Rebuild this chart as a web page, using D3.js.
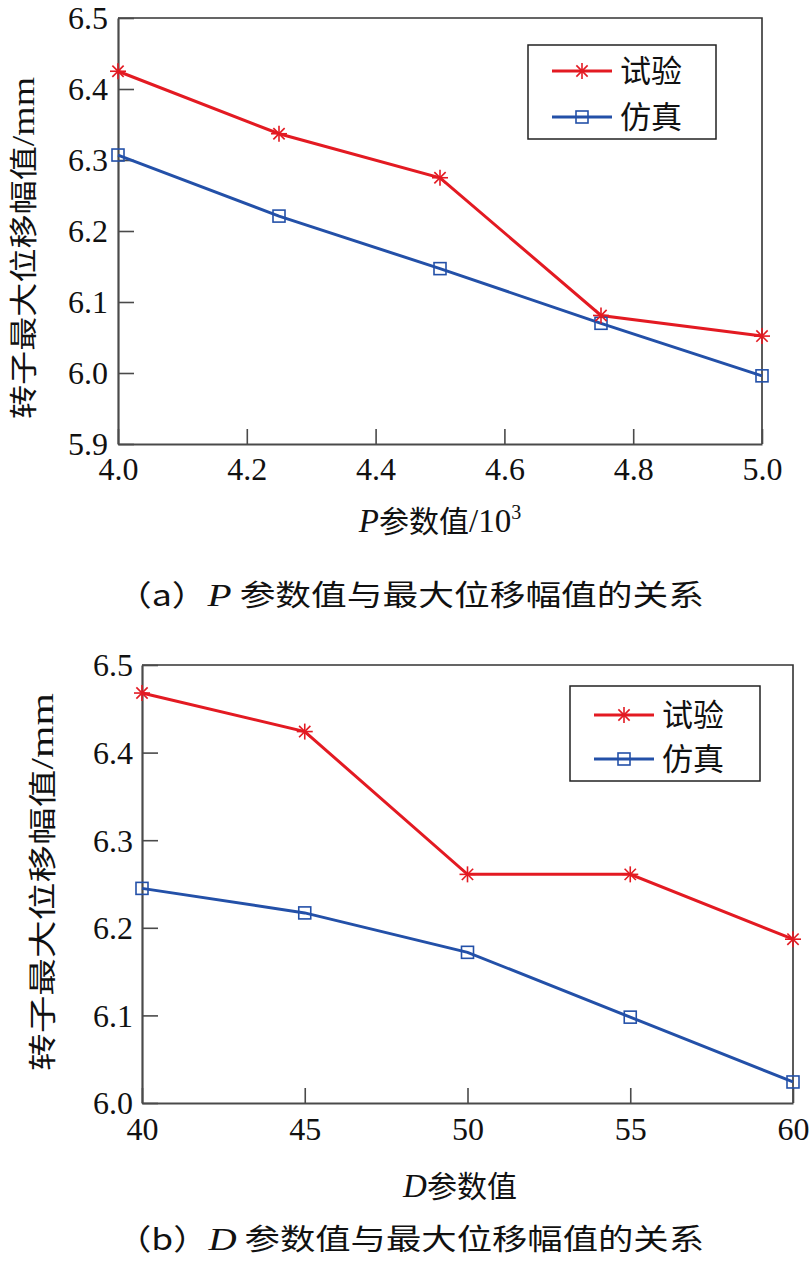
<!DOCTYPE html>
<html><head><meta charset="utf-8">
<script src="https://cdn.jsdelivr.net/npm/d3@7"></script>
<style>
html,body{margin:0;padding:0;background:#fff;}
svg{display:block;}
</style></head>
<body>
<svg id="c" width="811" height="1265"></svg>
<script>
// ---------- data ----------
const seriesNames = ["试验", "仿真"];
const pValues = [4.0, 4.25, 4.5, 4.75, 5.0];
const pTest = [6.425, 6.337, 6.275, 6.081, 6.052];
const pSim = [6.307, 6.221, 6.147, 6.070, 5.996];
const pXTicks = [4.0, 4.2, 4.4, 4.6, 4.8, 5.0];
const pYTicks = [5.9, 6.0, 6.1, 6.2, 6.3, 6.4, 6.5];

const dValues = [40, 45, 50, 55, 60];
const dTest = [6.468, 6.424, 6.261, 6.261, 6.187];
const dSim = [6.245, 6.217, 6.172, 6.098, 6.024];
const dXTicks = [40, 45, 50, 55, 60];
const dYTicks = [6.0, 6.1, 6.2, 6.3, 6.4, 6.5];

const yLabelText = "转子最大位移幅值";
const captionA = ["（a）", "P", " 参数值与最大位移幅值的关系"];
const captionB = ["（b）", "D", " 参数值与最大位移幅值的关系"];

// ---------- style ----------
const RED = "#e31a22", BLUE = "#2350a8", AX = "#4a4a4a";
const SERIF = "'Liberation Serif','Times New Roman',serif";
const CJK = "'Noto Sans CJK SC','Noto Sans CJK JP',sans-serif";

const svg = d3.select("#c");

function drawChart(cfg) {
  const g = svg.append("g");
  const x = d3.scaleLinear().domain(cfg.xDomain).range([cfg.left, cfg.right]);
  const y = d3.scaleLinear().domain(cfg.yDomain).range([cfg.bottom, cfg.top]);

  // frame (top/right)
  g.append("path")
    .attr("d", `M${cfg.left},${cfg.top}H${cfg.right}V${cfg.bottom}`)
    .attr("fill", "none").attr("stroke", "#333").attr("stroke-width", 1.6);

  // bottom axis
  const xa = g.append("g").attr("transform", `translate(0,${cfg.bottom})`)
    .call(d3.axisBottom(x).tickValues(cfg.xTicks).tickSizeInner(-15).tickSizeOuter(0).tickPadding(0)
      .tickFormat(cfg.xFmt));
  // left axis
  const ya = g.append("g").attr("transform", `translate(${cfg.left},0)`)
    .call(d3.axisLeft(y).tickValues(cfg.yTicks).tickSizeInner(-16).tickSizeOuter(0).tickPadding(0)
      .tickFormat(d3.format(".1f")));
  [xa, ya].forEach(a => {
    a.attr("font-family", null).attr("font-size", null);
    a.select(".domain").attr("stroke", AX).attr("stroke-width", 2.2);
    a.selectAll(".tick line").attr("stroke", AX).attr("stroke-width", 1.6);
    a.selectAll(".tick text").attr("fill", "#111").style("font-family", SERIF).style("font-size", cfg.fs + "px");
  });
  xa.selectAll(".tick text").attr("dy", null).attr("y", cfg.xLabOff);
  ya.selectAll(".tick text").attr("x", -cfg.yLabGap).attr("dy", "0.34em");

  // lines
  const line = d3.line().x(d => x(d[0])).y(d => y(d[1]));
  const dataTest = cfg.xs.map((v, i) => [v, cfg.test[i]]);
  const dataSim = cfg.xs.map((v, i) => [v, cfg.sim[i]]);
  g.append("path").datum(dataSim).attr("d", line).attr("fill", "none").attr("stroke", BLUE).attr("stroke-width", 3);
  g.append("path").datum(dataTest).attr("d", line).attr("fill", "none").attr("stroke", RED).attr("stroke-width", 3);

  dataSim.forEach(d => square(g, x(d[0]), y(d[1])));
  dataTest.forEach(d => star(g, x(d[0]), y(d[1])));

  // legend
  const L = cfg.legend;
  g.append("rect").attr("x", L.x).attr("y", L.y).attr("width", L.w).attr("height", L.h)
    .attr("fill", "#fff").attr("stroke", "#222").attr("stroke-width", 1.5);
  const rows = [{c: RED, m: star}, {c: BLUE, m: square}];
  rows.forEach((r, i) => {
    const ry = L.y + L.r[i];
    g.append("line").attr("x1", L.x + 24).attr("x2", L.x + 84).attr("y1", ry).attr("y2", ry)
      .attr("stroke", r.c).attr("stroke-width", 3);
    r.m(g, L.x + 54, ry);
    g.append("text").attr("x", L.x + 92).attr("y", ry).attr("dy", "0.36em")
      .style("font-family", CJK).style("font-size", "31px").attr("fill", "#111").text(seriesNames[i]);
  });

  // y label
  const yl = g.append("text")
    .attr("transform", `translate(${cfg.yl.x},${cfg.yl.cy}) rotate(-90)`)
    .attr("text-anchor", "middle").attr("dy", "0.36em").attr("fill", "#111")
    .attr("textLength", cfg.yl.len).attr("lengthAdjust", "spacingAndGlyphs");
  yl.append("tspan").style("font-family", CJK).style("font-size", "28px").text(yLabelText);
  yl.append("tspan").style("font-family", SERIF).style("font-size", "31px").text("/mm");

  // x label
  const xl = g.append("text").attr("x", cfg.xl.x).attr("y", cfg.xl.y)
    .attr("text-anchor", "middle").attr("fill", "#111");
  xl.append("tspan").style("font-family", SERIF).style("font-style", "italic").style("font-size", "33px").text(cfg.xl.v);
  xl.append("tspan").style("font-family", CJK).style("font-size", "30px").text("参数值");
  if (cfg.xl.unit) {
    xl.append("tspan").style("font-family", SERIF).style("font-size", "33px").text("/10");
    xl.append("tspan").style("font-family", SERIF).style("font-size", "20px").attr("dy", "-13").text("3");
  }

  // caption
  const cap = g.append("text").attr("x", 410).attr("y", cfg.cap.y)
    .attr("text-anchor", "middle").attr("fill", "#111")
    .attr("textLength", 588).attr("lengthAdjust", "spacingAndGlyphs");
  cap.append("tspan").style("font-family", CJK).style("font-size", "29px").text(cfg.cap.t[0]);
  cap.append("tspan").style("font-family", SERIF).style("font-style", "italic").style("font-size", "32px").text(cfg.cap.t[1]);
  cap.append("tspan").style("font-family", CJK).style("font-size", "29px").text(cfg.cap.t[2]);
}

function star(g, cx, cy) {
  const r = 8, s = g.append("g").attr("transform", `translate(${cx},${cy})`)
    .attr("stroke", RED).attr("stroke-width", 1.6);
  [0, 45, 90, 135].forEach(a => {
    const t = a * Math.PI / 180;
    s.append("line").attr("x1", -r * Math.cos(t)).attr("y1", -r * Math.sin(t))
      .attr("x2", r * Math.cos(t)).attr("y2", r * Math.sin(t));
  });
}
function square(g, cx, cy) {
  g.append("rect").attr("x", cx - 6).attr("y", cy - 6).attr("width", 12).attr("height", 12)
    .attr("fill", "none").attr("stroke", BLUE).attr("stroke-width", 1.6);
}

drawChart({
  left: 118, right: 762, top: 18, bottom: 444,
  xDomain: [4.0, 5.0], yDomain: [5.9, 6.5],
  xTicks: pXTicks, yTicks: pYTicks, xFmt: d3.format(".1f"),
  xs: pValues, test: pTest, sim: pSim, fs: 32, xLabOff: 36, yLabGap: 10,
  legend: {x: 528, y: 45, w: 188, h: 94, r: [26, 72]},
  yl: {x: 28, cy: 248, len: 342},
  xl: {x: 440, y: 532, v: "P", unit: true},
  cap: {y: 606, t: captionA}
});
drawChart({
  left: 142, right: 793, top: 665, bottom: 1103,
  xDomain: [40, 60], yDomain: [6.0, 6.5],
  xTicks: dXTicks, yTicks: dYTicks, xFmt: d3.format("d"),
  xs: dValues, test: dTest, sim: dSim, fs: 32, xLabOff: 37, yLabGap: 9,
  legend: {x: 570, y: 686, w: 190, h: 95, r: [29, 73]},
  yl: {x: 47, cy: 882, len: 378},
  xl: {x: 460, y: 1197, v: "D", unit: false},
  cap: {y: 1250, t: captionB}
});
</script>
</body></html>
